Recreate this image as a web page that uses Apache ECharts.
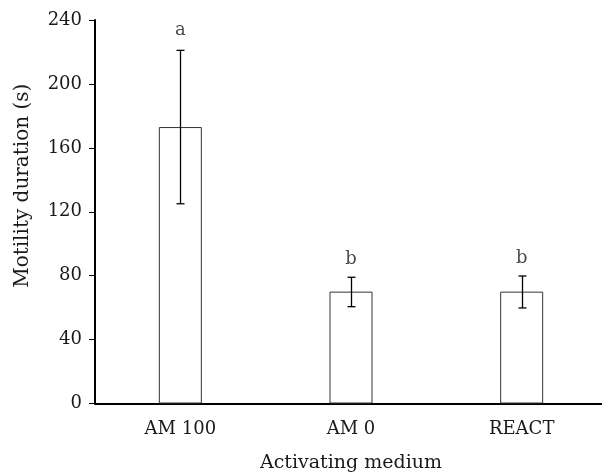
<!DOCTYPE html>
<html>
<head>
<meta charset="utf-8">
<script src="https://cdn.jsdelivr.net/npm/echarts@6/dist/echarts.min.js"></script>
<style>
  html, body { margin: 0; padding: 0; background: #fff; }
  #chart { width: 602px; height: 472px; }
</style>
</head>
<body>
<div id="chart"></div>
<script>
// 数据
var categories = ['AM 100', 'AM 0', 'REACT']
var means = [173, 70, 70]
var errLow = [125, 60.6, 59.8]
var errHigh = [221, 79, 79.8]
var letters = ['a', 'b', 'b']
var yTicks = [0, 40, 80, 120, 160, 200, 240]

var font = 'DejaVu Serif'
var chart = echarts.init(document.getElementById('chart'))

chart.setOption({
  animation: false,
  grid: { left: 95, top: 20, bottom: 68.5, width: 512, outerBoundsMode: 'none', containLabel: false },
  xAxis: {
    type: 'category',
    data: categories,
    name: 'Activating medium',
    nameLocation: 'middle',
    nameGap: 50,
    nameTextStyle: { fontFamily: font, fontSize: 19, color: '#1a1a1a' },
    axisLine: { lineStyle: { color: '#000', width: 2 } },
    axisTick: { length: 6, lineStyle: { color: '#000', width: 1 } },
    axisLabel: { fontFamily: font, fontSize: 18, color: '#1a1a1a', margin: 17 }
  },
  yAxis: {
    type: 'value',
    min: yTicks[0],
    max: yTicks[yTicks.length - 1],
    interval: 40,
    name: 'Motility duration (s)',
    nameLocation: 'middle',
    nameGap: 62,
    nameTextStyle: { fontFamily: font, fontSize: 20, color: '#1a1a1a', padding: [0, 0, 0, 52] },
    axisLine: { show: true, lineStyle: { color: '#000', width: 2 } },
    axisTick: { show: true, length: 6, lineStyle: { color: '#000', width: 1 } },
    axisLabel: { fontFamily: font, fontSize: 18, color: '#1a1a1a', margin: 13 },
    splitLine: { show: false }
  },
  series: [
    {
      type: 'bar',
      data: means,
      barWidth: 43,
      itemStyle: { color: '#fff', borderColor: '#333', borderWidth: 1 }
    },
    {
      // 误差线
      type: 'custom',
      data: categories.map(function (c, i) { return [i, errLow[i], errHigh[i]] }),
      renderItem: function (params, api) {
        var lo = api.coord([api.value(0), api.value(1)])
        var hi = api.coord([api.value(0), api.value(2)])
        var x = Math.round(lo[0]) + 0.5
        var style = { stroke: '#000', lineWidth: 1.3 }
        return {
          type: 'group',
          children: [
            { type: 'line', shape: { x1: x, y1: lo[1], x2: x, y2: hi[1] }, style: style },
            { type: 'line', shape: { x1: x - 4, y1: lo[1], x2: x + 4, y2: lo[1] }, style: style },
            { type: 'line', shape: { x1: x - 4, y1: hi[1], x2: x + 4, y2: hi[1] }, style: style }
          ]
        }
      },
      z: 3
    },
    {
      // 显著性字母
      type: 'scatter',
      data: errHigh.map(function (v, i) {
        return { value: v, label: { distance: i === 0 ? 11 : 9 } }
      }),
      symbolSize: 0,
      label: {
        show: true,
        position: 'top',
        formatter: function (p) { return letters[p.dataIndex] },
        fontFamily: font,
        fontSize: 18,
        color: '#1a1a1a'
      }
    }
  ]
})
</script>
</body>
</html>
